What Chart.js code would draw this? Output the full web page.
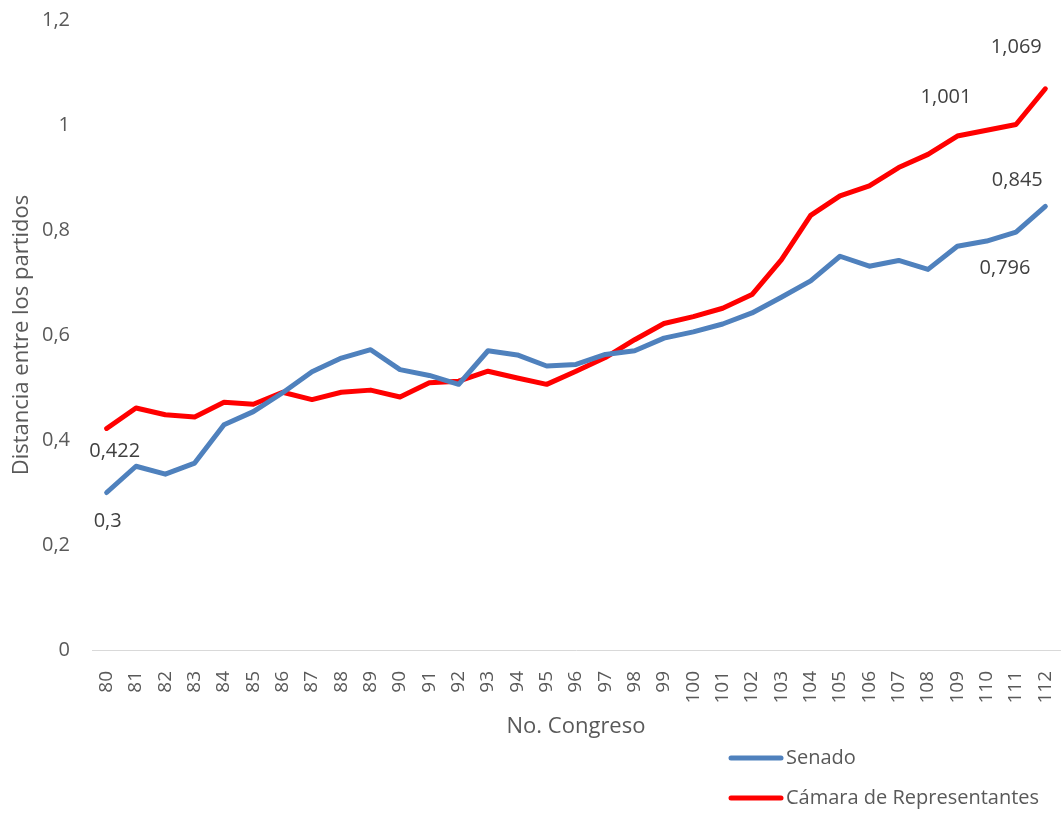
<!DOCTYPE html>
<html>
<head>
<meta charset="utf-8">
<script src="https://cdn.jsdelivr.net/npm/chart.js@4"></script>
<style>
  html, body { margin: 0; padding: 0; background: #ffffff; }
  #wrap { width: 1063px; height: 814px; }
</style>
</head>
<body>
<div id="wrap"><canvas id="grafica" width="1063" height="814"></canvas></div>
<script>
// Congresos
const congresos = ['80','81','82','83','84','85','86','87','88','89','90','91','92','93','94','95','96',
    '97','98','99','100','101','102','103','104','105','106','107','108','109','110','111','112'];

// Senado
const senado = [0.300, 0.350, 0.335, 0.356, 0.429, 0.454, 0.490, 0.530, 0.556, 0.572, 0.534, 0.523,
    0.506, 0.570, 0.562, 0.541, 0.544, 0.563, 0.570, 0.594, 0.606, 0.621, 0.642, 0.672, 0.703,
    0.750, 0.731, 0.742, 0.725, 0.769, 0.779, 0.796, 0.845];

// Cámara de Representantes
const camara = [0.422, 0.461, 0.448, 0.444, 0.472, 0.468, 0.491, 0.477, 0.491, 0.495, 0.482, 0.509,
    0.512, 0.531, 0.518, 0.506, 0.531, 0.557, 0.591, 0.622, 0.635, 0.651, 0.677, 0.743, 0.828,
    0.865, 0.884, 0.919, 0.944, 0.979, 0.990, 1.001, 1.069];

const ejeY = [0, 0.2, 0.4, 0.6, 0.8, 1, 1.2];

// Etiquetas de datos: [serie, indice]
const etiquetas = [[1, 0], [0, 0], [1, 31], [1, 32], [0, 32], [0, 31]];
// desplazamientos de cada etiqueta (px)
const desplazamientos = [[8, 23], [1, 29], [-70, -27], [-29, -41], [-28, -26], [-11, 36]];

const fuente = "'Open Sans', 'DejaVu Sans', sans-serif";

function coma(v) {
    return String(Math.round(v * 1000) / 1000).replace('.', ',');
}

// Etiquetas de datos
const pluginEtiquetas = {
    id: 'etiquetas',
    afterDatasetsDraw(chart) {
        const ctx = chart.ctx;
        ctx.save();
        ctx.font = '20px ' + fuente;
        ctx.fillStyle = '#404040';
        ctx.textAlign = 'center';
        ctx.textBaseline = 'middle';
        etiquetas.forEach((e, i) => {
            const punto = chart.getDatasetMeta(e[0]).data[e[1]];
            const valor = chart.data.datasets[e[0]].data[e[1]];
            ctx.fillText(coma(valor), punto.x + desplazamientos[i][0], punto.y + desplazamientos[i][1]);
        });
        ctx.restore();
    }
};

// Leyenda vertical abajo a la derecha
const pluginLeyenda = {
    id: 'leyenda',
    afterDraw(chart) {
        const ctx = chart.ctx;
        ctx.save();
        ctx.font = '20px ' + fuente;
        ctx.textBaseline = 'middle';
        ctx.textAlign = 'left';
        chart.data.datasets.forEach((ds, i) => {
            const y = 758 + i * 40;
            ctx.strokeStyle = ds.borderColor;
            ctx.lineWidth = 5;
            ctx.lineCap = 'round';
            ctx.beginPath();
            ctx.moveTo(731, y);
            ctx.lineTo(781, y);
            ctx.stroke();
            ctx.fillStyle = '#595959';
            ctx.fillText(ds.label, 786, y);
        });
        ctx.restore();
    }
};

const chart = new Chart(document.getElementById('grafica'), {
    type: 'line',
    data: {
        labels: congresos,
        datasets: [{
            label: 'Senado',
            data: senado,
            borderColor: '#4f81bd',
            borderWidth: 5,
            pointRadius: 0,
            tension: 0,
            borderJoinStyle: 'round',
            borderCapStyle: 'round'
        }, {
            label: 'Cámara de Representantes',
            data: camara,
            borderColor: '#ff0000',
            borderWidth: 5,
            pointRadius: 0,
            tension: 0,
            borderJoinStyle: 'round',
            borderCapStyle: 'round'
        }]
    },
    options: {
        responsive: false,
        animation: false,
        layout: {
            padding: { top: 20, right: 3, bottom: 74, left: 0 }
        },
        plugins: {
            legend: { display: false },
            tooltip: { enabled: false }
        },
        scales: {
            x: {
                offset: true,
                grid: { display: false },
                border: { display: true, color: '#d9d9d9', width: 1 },
                ticks: {
                    color: '#595959',
                    font: { family: fuente, size: 19 },
                    minRotation: 90,
                    maxRotation: 90,
                    autoSkip: false,
                    padding: 13
                },
                title: {
                    display: true,
                    text: 'No. Congreso',
                    color: '#595959',
                    font: { family: fuente, size: 22 },
                    padding: { top: 4, bottom: 0 }
                },
                afterFit(scale) {
                    scale.height = 90;
                    scale.paddingLeft = 0;
                    scale.paddingRight = 0;
                }
            },
            y: {
                min: 0,
                max: 1.2,
                grid: { display: false, drawTicks: false },
                border: { display: false },
                afterBuildTicks(scale) { scale.ticks = ejeY.map(v => ({ value: v })); },
                ticks: {
                    color: '#595959',
                    font: { family: fuente, size: 20 },
                    padding: 22,
                    callback: v => coma(v)
                },
                title: {
                    display: true,
                    text: 'Distancia entre los partidos',
                    color: '#595959',
                    font: { family: fuente, size: 22 },
                    padding: { top: 9, bottom: 0 }
                },
                afterFit(scale) {
                    scale.width = 92;
                    scale.paddingTop = 0;
                    scale.paddingBottom = 0;
                }
            }
        }
    },
    plugins: [pluginEtiquetas, pluginLeyenda]
});
</script>
</body>
</html>
